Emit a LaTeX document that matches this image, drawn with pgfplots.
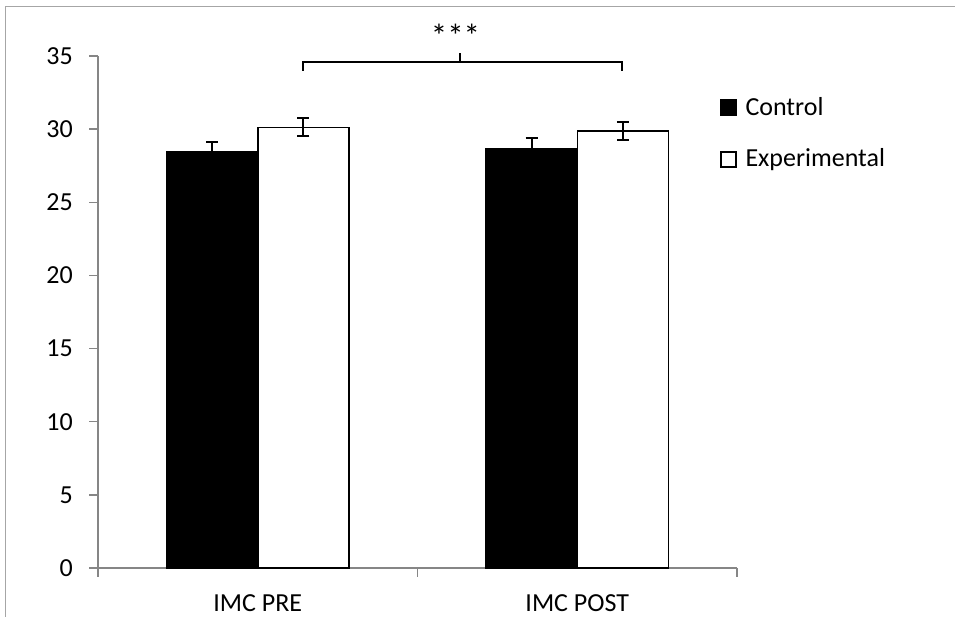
\documentclass[border=0pt]{standalone}
\usepackage{fontspec}
\setmainfont{Carlito}
\usepackage{pgfplots}
\pgfplotsset{compat=1.18}

\definecolor{axisgray}{HTML}{868686}
\definecolor{framegray}{HTML}{A6A6A6}
\newcommand\chartfont{\fontsize{26}{31}\selectfont}

\begin{document}
\begin{tikzpicture}
\path[use as bounding box] (0pt,0pt) rectangle (955pt,617pt);
% chart area border (top and left edges)
\draw[framegray, line width=1.5pt] (5.5pt,0pt) -- (5.5pt,610.3pt) -- (955pt,610.3pt);

\begin{axis}[
  at={(98pt,49pt)}, anchor=south west,
  scale only axis, width=639pt, height=512pt,
  clip=false,
  ybar=0pt, bar width=0.286,
  xmin=-0.5, xmax=1.5, ymin=0, ymax=35,
  xtick={-0.5,0.5,1.5},
  x tick label as interval,
  xticklabels={IMC PRE, IMC POST},
  ytick={0,5,...,35},
  axis lines*=left,
  axis line style={-, draw=axisgray, line width=1.5pt},
  tick align=outside, major tick length=9pt,
  tick style={draw=axisgray, line width=1.5pt},
  /pgf/number format/assume math mode=true,
  tick label style={font=\chartfont, text=black},
  yticklabel style={anchor=east, inner sep=0pt, xshift=-16pt},
  xticklabel style={anchor=north, inner sep=0pt, yshift=-17pt},
  legend style={at={(0.9734,0.9199)}, anchor=north west, draw=none, fill=none,
    inner sep=0pt, outer sep=0pt, row sep=33pt, column sep=9pt,
    nodes={inner sep=0pt, text height=18pt, text depth=0pt, font=\chartfont, anchor=base west}},
  legend cell align=left,
  legend image code/.code={\draw[#1, line width=1.5pt] (0pt,0pt) rectangle (15pt,15pt);},
]
\addplot[fill=black, draw=black, line width=1.5pt,
  error bars/.cd, y dir=both, y explicit,
  error bar style={line width=2pt, black},
  error mark options={rotate=90, mark size=6pt, line width=2pt, black}]
  coordinates {(0,28.45) +- (0,0.65) (1,28.68) +- (0,0.68)};
\addlegendentry{Control}
\addplot[fill=white, draw=black, line width=1.5pt,
  error bars/.cd, y dir=both, y explicit,
  error bar style={line width=2pt, black},
  error mark options={rotate=90, mark size=6pt, line width=2pt, black}]
  coordinates {(0,30.12) +- (0,0.62) (1,29.86) +- (0,0.60)};
\addlegendentry{Experimental}

% significance bracket between the experimental bars
\draw[black, line width=2pt]
  (axis cs:0.143,33.99) -- (axis cs:0.143,34.61) -- (axis cs:1.140,34.61) -- (axis cs:1.140,33.99);
\draw[black, line width=2pt] (axis cs:0.633,34.61) -- (axis cs:0.633,35.23);
\node[font=\fontsize{33}{40}\selectfont, anchor=base, inner sep=0pt] at (axis cs:0.619,35.55) {***};
\end{axis}
\end{tikzpicture}
\end{document}
